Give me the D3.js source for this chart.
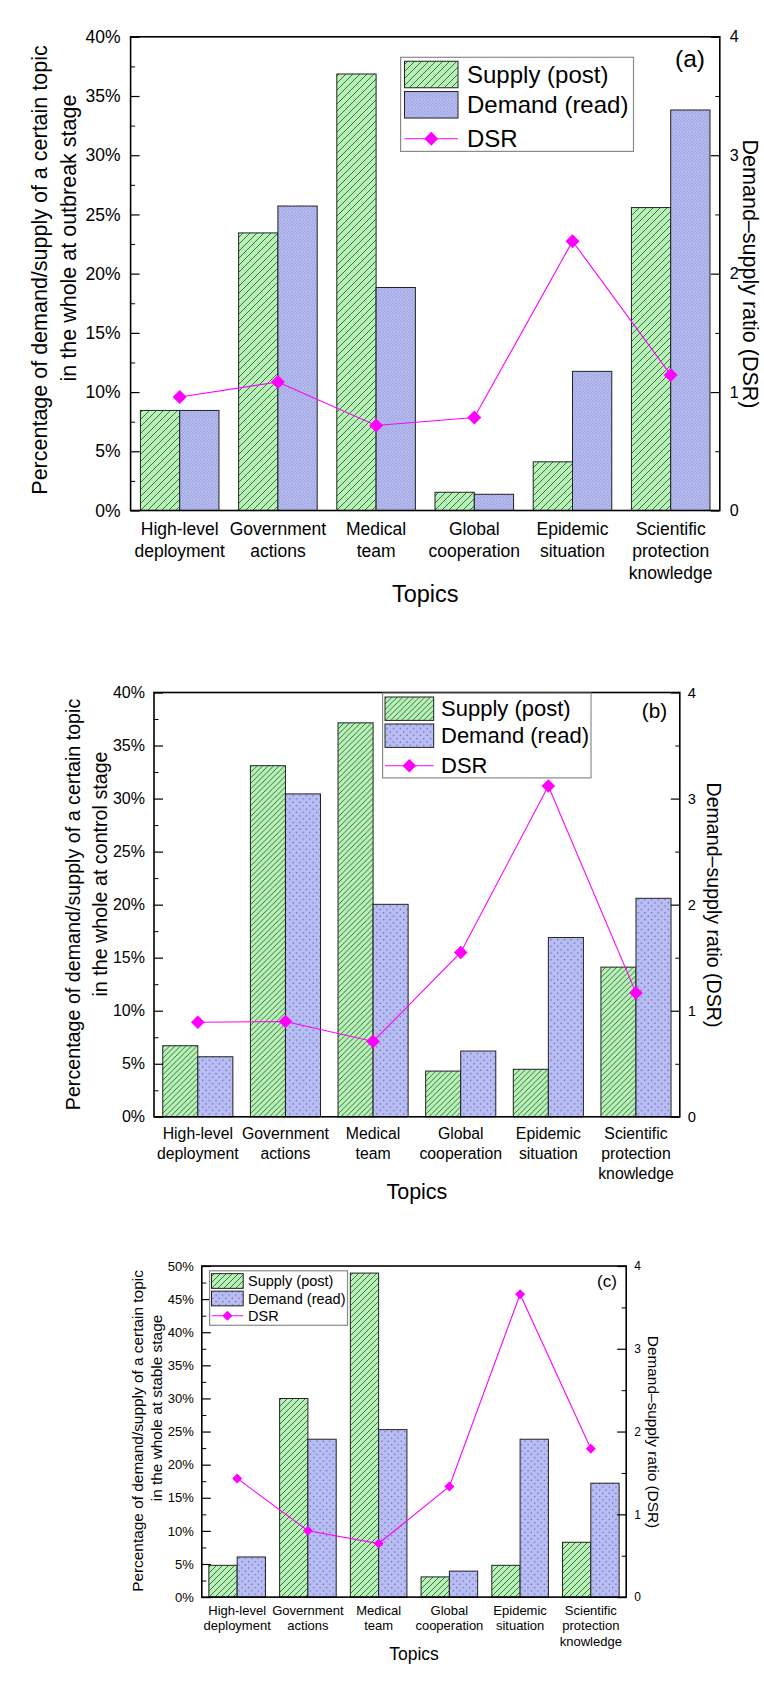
<!DOCTYPE html>
<html><head><meta charset="utf-8">
<script src="https://cdn.jsdelivr.net/npm/d3@7"></script>
<style>
body{margin:0;background:#fff}
svg{display:block}
text{font-family:Arial,"Liberation Sans",sans-serif;fill:#000}
</style>
</head><body>
<svg id="chart" width="764" height="1683"></svg>
<script>
// ---------------- data ----------------
const topics = ["High-level deployment","Government actions","Medical team","Global cooperation","Epidemic situation","Scientific protection knowledge"];
const topicLines = [["High-level","deployment"],["Government","actions"],["Medical","team"],["Global","cooperation"],["Epidemic","situation"],["Scientific","protection","knowledge"]];
const seriesNames = ["Supply (post)","Demand (read)","DSR"];

const supplyA = [8.45, 23.44, 36.86, 1.54, 4.11, 25.58];
const demandA = [8.45, 25.71, 18.83, 1.37, 11.75, 33.82];
const dsrA    = [0.958, 1.085, 0.718, 0.785, 2.274, 1.145];

const supplyB = [6.70, 33.10, 37.14, 4.31, 4.48, 14.11];
const demandB = [5.66, 30.44, 20.03, 6.20, 16.90, 20.60];
const dsrB    = [0.892, 0.899, 0.710, 1.549, 3.118, 1.168];

const supplyC = [4.80, 29.99, 48.93, 3.05, 4.80, 8.28];
const demandC = [6.06, 23.84, 25.29, 3.92, 23.84, 17.20];
const dsrC    = [1.434, 0.802, 0.647, 1.337, 3.659, 1.791];

const leftTicks40 = [0,5,10,15,20,25,30,35,40];
const leftTicks50 = [0,5,10,15,20,25,30,35,40,45,50];
const rightTicks  = [0,1,2,3,4];
const stages = ["outbreak","control","stable"];
const panelLetters = ["(a)","(b)","(c)"];
const xTitle = "Topics";
const yTitle1 = "Percentage of demand/supply of a certain topic";
const yTitle2Prefix = "in the whole at ";
const y2Title = "Demand\u2013supply ratio (DSR)";

// ---------------- drawing ----------------
const svg = d3.select("#chart");
const defs = svg.append("defs");
const GREEN = "#b6f3b6", BLUE = "#b8bef5", MAG = "#ff00ff";

function makePatterns(id, hs, ds, dotR){
  const h = defs.append("pattern").attr("id","hatch"+id).attr("patternUnits","userSpaceOnUse")
    .attr("width",hs).attr("height",hs);
  h.append("rect").attr("width",hs).attr("height",hs).attr("fill",GREEN);
  h.append("path").attr("d",`M0,${hs} L${hs},0 M${-hs/2},${hs/2} L${hs/2},${-hs/2} M${hs/2},${hs*1.5} L${hs*1.5},${hs/2}`)
    .attr("stroke","#3a5a3a").attr("stroke-width",0.9);
  const d = defs.append("pattern").attr("id","dots"+id).attr("patternUnits","userSpaceOnUse")
    .attr("width",ds).attr("height",ds);
  d.append("rect").attr("width",ds).attr("height",ds).attr("fill",BLUE);
  d.append("circle").attr("cx",ds/4).attr("cy",ds/4).attr("r",dotR).attr("fill","#5a5f8a");
  d.append("circle").attr("cx",ds*3/4).attr("cy",ds*3/4).attr("r",dotR).attr("fill","#5a5f8a");
}

function panel(c){
  makePatterns(c.id, c.hatch, c.dotS, c.dotR);
  const g = svg.append("g");
  const x = d3.scaleBand().domain(topics).range([c.l, c.r]).paddingInner(0.2).paddingOuter(0.1);
  const xs = d3.scaleBand().domain(["s","d"]).range([0, x.bandwidth()]);
  const y = d3.scaleLinear().domain([0, c.ymax]).range([c.b, c.t]);
  const y2 = d3.scaleLinear().domain([0, 4]).range([c.b, c.t]);

  // bars
  g.selectAll(".sup").data(c.supply).join("rect")
    .attr("x",(d,i)=>x(topics[i])+xs("s")).attr("width",xs.bandwidth())
    .attr("y",d=>y(d)).attr("height",d=>y(0)-y(d))
    .attr("fill",`url(#hatch${c.id})`).attr("stroke","#222").attr("stroke-width",1);
  g.selectAll(".dem").data(c.demand).join("rect")
    .attr("x",(d,i)=>x(topics[i])+xs("d")).attr("width",xs.bandwidth())
    .attr("y",d=>y(d)).attr("height",d=>y(0)-y(d))
    .attr("fill",`url(#dots${c.id})`).attr("stroke","#222").attr("stroke-width",1);

  // minor ticks
  const minorL = d3.range(2.5, c.ymax, 5);
  const minorR = [0.5,1.5,2.5,3.5];
  g.append("g").attr("transform",`translate(${c.l},0)`)
    .call(d3.axisLeft(y).tickValues(minorL).tickSize(-4.5).tickFormat(""))
    .call(s=>s.select(".domain").remove());
  g.append("g").attr("transform",`translate(${c.r},0)`)
    .call(d3.axisRight(y2).tickValues(minorR).tickSize(-4.5).tickFormat(""))
    .call(s=>s.select(".domain").remove());
  // major axes
  g.append("g").attr("transform",`translate(${c.l},0)`)
    .call(d3.axisLeft(y).tickValues(c.leftTicks).tickSize(-9).tickPadding(c.padL).tickFormat(d=>d+"%"))
    .call(s=>s.select(".domain").remove())
    .call(s=>s.selectAll("text").attr("font-size",c.tickFs).attr("font-family",null))
    .call(s=>s.selectAll("line").attr("stroke-width",1.2));
  g.append("g").attr("transform",`translate(${c.r},0)`)
    .call(d3.axisRight(y2).tickValues(rightTicks).tickSize(-9).tickPadding(c.padR).tickFormat(d3.format("d")))
    .call(s=>s.select(".domain").remove())
    .call(s=>s.selectAll("text").attr("font-size",c.tickFs*0.92).attr("font-family",null))
    .call(s=>s.selectAll("line").attr("stroke-width",1.2));
  // bottom category labels
  g.append("g").attr("transform",`translate(0,${c.b})`)
    .call(d3.axisBottom(x).tickSize(0).tickFormat(""))
    .call(s=>s.select(".domain").remove())
    .call(s=>s.selectAll(".tick").each(function(d,i){
      const t = d3.select(this).append("text").attr("fill","#000").attr("text-anchor","middle")
        .attr("font-size",c.catFs);
      topicLines[i].forEach((ln,k)=>{
        t.append("tspan").attr("x",0).attr("y",c.catY0 - c.b + k*c.catDy).attr("dy","0.35em").text(ln);
      });
    }));

  // frame
  g.append("rect").attr("x",c.l).attr("y",c.t).attr("width",c.r-c.l).attr("height",c.b-c.t)
    .attr("fill","none").attr("stroke","#000").attr("stroke-width",1.6);

  // DSR line
  const cx = i => x(topics[i]) + x.bandwidth()/2;
  const line = d3.line().x((d,i)=>cx(i)).y(d=>y2(d));
  g.append("path").datum(c.dsr).attr("d",line).attr("fill","none").attr("stroke",MAG).attr("stroke-width",1.1);
  const dia = d3.symbol().type(d3.symbolSquare).size(c.dia*c.dia*2);
  g.selectAll(".dsr").data(c.dsr).join("path")
    .attr("d",dia).attr("fill",MAG)
    .attr("transform",(d,i)=>`translate(${cx(i)},${y2(d)}) rotate(45)`);

  // axis titles
  g.append("text").attr("x",(c.l+c.r)/2).attr("y",c.topY).attr("dy","0.35em").attr("text-anchor","middle")
    .attr("font-size",c.topFs).text(xTitle);
  g.append("text").attr("transform",`translate(${c.yl1x},${c.yl1y}) rotate(-90)`).attr("dy","0.35em")
    .attr("text-anchor","middle").attr("font-size",c.ylFs).text(yTitle1);
  g.append("text").attr("transform",`translate(${c.yl2x},${c.yl2y}) rotate(-90)`).attr("dy","0.35em")
    .attr("text-anchor","middle").attr("font-size",c.ylFs).text(yTitle2Prefix + c.stage + " stage");
  g.append("text").attr("transform",`translate(${c.yrx},${c.yry}) rotate(90)`).attr("dy","0.35em")
    .attr("text-anchor","middle").attr("font-size",c.yrFs).text(y2Title);

  // letter
  g.append("text").attr("x",c.letX).attr("y",c.letY).attr("dy","0.35em").attr("text-anchor","middle")
    .attr("font-size",c.letFs).text(c.letter);

  // legend
  const L = c.leg;
  g.append("rect").attr("x",L.x0).attr("y",L.y0).attr("width",L.x1-L.x0).attr("height",L.y1-L.y0)
    .attr("fill","#fff").attr("stroke","#8a8a8a").attr("stroke-width",1.2);
  const fills = [`url(#hatch${c.id})`,`url(#dots${c.id})`];
  [0,1].forEach(k=>{
    g.append("rect").attr("x",L.sx0).attr("y",L.rows[k]-L.sh/2).attr("width",L.sx1-L.sx0).attr("height",L.sh)
      .attr("fill",fills[k]).attr("stroke","#222").attr("stroke-width",1);
  });
  g.append("line").attr("x1",L.sx0).attr("x2",L.sx1).attr("y1",L.rows[2]).attr("y2",L.rows[2])
    .attr("stroke",MAG).attr("stroke-width",1.1);
  g.append("path").attr("d",dia).attr("fill",MAG)
    .attr("transform",`translate(${(L.sx0+L.sx1)/2},${L.rows[2]}) rotate(45)`);
  seriesNames.forEach((n,k)=>{
    g.append("text").attr("x",L.tx).attr("y",L.rows[k]).attr("dy","0.35em").attr("font-size",L.fs).text(n);
  });
}

panel({id:"A", supply:supplyA, demand:demandA, dsr:dsrA, leftTicks:leftTicks40, ymax:40,
  l:130.6, r:719.8, t:36.8, b:510.5, tickFs:17.5, padL:10, padR:10,
  catFs:17.5, catY0:528.7, catDy:22.2, topY:594, topFs:23.5,
  yl1x:39, yl1y:270, yl2x:68, yl2y:238, ylFs:21.5, yrx:751, yry:274, yrFs:21.5,
  letter:panelLetters[0], letX:690, letY:58.5, letFs:24.5, stage:stages[0],
  hatch:7, dotS:3.2, dotR:0.45, dia:7,
  leg:{x0:400.6,y0:57.3,x1:633.5,y1:151.4,sx0:404.5,sx1:458,sh:26.5,rows:[74.5,104.8,138.7],tx:467,fs:24}});

panel({id:"B", supply:supplyB, demand:demandB, dsr:dsrB, leftTicks:leftTicks40, ymax:40,
  l:154, r:679.8, t:692.5, b:1116.8, tickFs:16, padL:9, padR:8,
  catFs:15.8, catY0:1133, catDy:20, topY:1191, topFs:21.5,
  yl1x:73, yl1y:904.5, yl2x:100, yl2y:874, ylFs:19.7, yrx:714, yry:905, yrFs:19.6,
  letter:panelLetters[1], letX:654.5, letY:711, letFs:20.7, stage:stages[1],
  hatch:5.5, dotS:6.7, dotR:0.75, dia:6.8,
  leg:{x0:382.6,y0:693.2,x1:591,y1:777.9,sx0:385,sx1:433.7,sh:23.4,rows:[708.7,735.7,765.7],tx:441,fs:22}});

panel({id:"C", supply:supplyC, demand:demandC, dsr:dsrC, leftTicks:leftTicks50, ymax:50,
  l:201.8, r:626.2, t:1266, b:1597.1, tickFs:13, padL:8, padR:8,
  catFs:13, catY0:1610, catDy:15.5, topY:1654, topFs:17.5,
  yl1x:138, yl1y:1431, yl2x:157, yl2y:1408, ylFs:15.4, yrx:653, yry:1432, yrFs:15.4,
  letter:panelLetters[2], letX:607, letY:1281.4, letFs:17, stage:stages[2],
  hatch:6, dotS:6.5, dotR:0.7, dia:5,
  leg:{x0:209.6,y0:1270.8,x1:347.5,y1:1325.3,sx0:211.5,sx1:243.2,sh:14.7,rows:[1281,1298.5,1315.7],tx:248,fs:14.5}});
</script>
</body></html>
